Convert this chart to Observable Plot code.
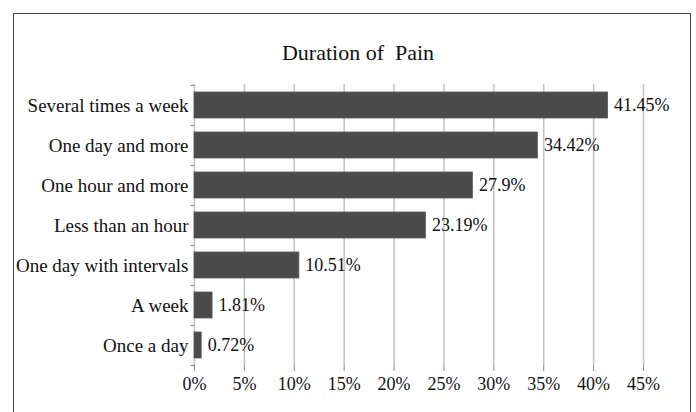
<!DOCTYPE html>
<html>
<head>
<meta charset="utf-8">
<script src="https://cdn.jsdelivr.net/npm/d3@7"></script>
<script src="https://cdn.jsdelivr.net/npm/@observablehq/plot@0.6"></script>
<style>
  html, body { margin: 0; padding: 0; background: #fff; }
  #wrap { position: relative; width: 696px; height: 412px; overflow: hidden; background: #fff; }
  #frame { position: absolute; left: 13px; top: 13px; width: 678px; height: 420px; border: 1px solid #444; box-sizing: border-box; }
  #title { position: absolute; left: 0; width: 716px; top: 40px; text-align: center; font-family: "Liberation Serif", serif; font-size: 22px; color: #111; white-space: pre; }
  #chart { position: absolute; left: 0; top: 0; }
</style>
</head>
<body>
<div id="wrap">
  <div id="frame"></div>
  <div id="title">Duration of  Pain</div>
  <div id="chart"></div>
</div>
<script>
const categories = [
  "Several times a week",
  "One day and more",
  "One hour and more",
  "Less than an hour",
  "One day with intervals",
  "A week",
  "Once a day"
];
const values = [41.45, 34.42, 27.9, 23.19, 10.51, 1.81, 0.72];
const xTicks = [0, 5, 10, 15, 20, 25, 30, 35, 40, 45];

const data = categories.map((c, i) => ({category: c, value: values[i]}));
const font = "Liberation Serif, serif";

const chart = Plot.plot({
  width: 696,
  height: 412,
  marginLeft: 194,
  marginRight: 53,
  marginTop: 84,
  marginBottom: 47,
  style: {background: "transparent", fontFamily: font, color: "#111"},
  x: {domain: [0, 45]},
  y: {domain: categories, padding: 0},
  marks: [
    Plot.gridX(xTicks, {stroke: "#c2c2c2", strokeOpacity: 1, strokeWidth: 1.5}),
    Plot.barX(data, {x: "value", y: "category", fill: "#4b4b4b", stroke: "#5a5a5a", strokeWidth: 0.8, insetTop: 7, insetBottom: 7}),
    Plot.ruleY(categories, {y: d => d, x1: -0.35, x2: 0, dy: -20, stroke: "#888", strokeWidth: 1.2}),
    Plot.ruleY(categories.slice(-1), {y: d => d, x1: -0.35, x2: 0, dy: 20, stroke: "#888", strokeWidth: 1.2}),
    Plot.axisX({ticks: xTicks, tickFormat: d => d + "%", tickSize: 6, tickPadding: 6, fontSize: 18, stroke: "#888", fill: "#111", line: true, label: null}),
    Plot.axisY({tickSize: 0, tickPadding: 6, fontSize: 19, fill: "#111", label: null}),
    Plot.text(data, {x: "value", y: "category", text: d => d.value + "%", textAnchor: "start", dx: 6, fontSize: 18, fill: "#111"})
  ]
});
document.getElementById("chart").appendChild(chart);
</script>
</body>
</html>
